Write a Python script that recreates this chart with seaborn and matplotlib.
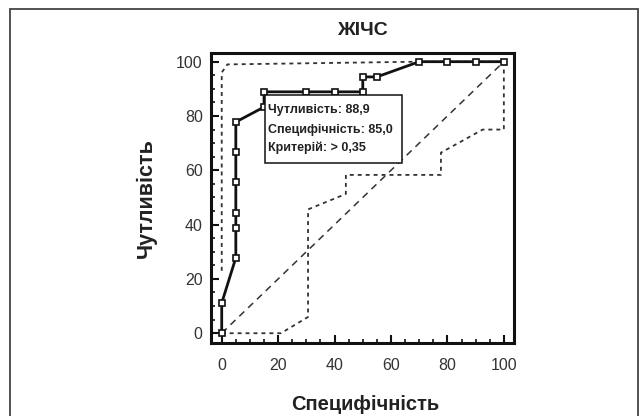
import matplotlib
matplotlib.use("Agg")
import matplotlib.pyplot as plt
import seaborn as sns
import pandas as pd
from matplotlib.patches import Rectangle
from matplotlib.ticker import MultipleLocator

# ROC curve (points shown as squares)
roc_x = [0, 0, 5, 5, 5, 5, 5, 5, 15, 15, 30, 40, 50, 50, 55, 70, 80, 90, 100]
roc_y = [0, 11.1, 27.8, 38.9, 44.4, 55.6, 66.7, 77.8, 83.3, 88.9, 88.9, 88.9, 88.9,
         94.4, 94.4, 100, 100, 100, 100]

# confidence bounds
upper_x = [0, 0, 2, 70, 100]
upper_y = [23, 96, 99, 100, 100]
lower_x = [0, 21, 30.6, 30.6, 44, 44, 77.7, 77.7, 92.5, 100, 100]
lower_y = [0, 0, 6, 45.6, 51.3, 58.3, 58.3, 66.5, 75, 75, 100]

diag = [0, 100]

info_lines = ["Чутливість: 88,9", "Специфічність: 85,0", "Критерій: > 0,35"]

sns.set_style("ticks")
plt.rcParams['font.family'] = ['Liberation Sans', 'DejaVu Sans']

fig = plt.figure(figsize=(6.42, 4.16), dpi=100)
ax = fig.add_axes([211/642, 1 - 343/416, 303/642, 290/416])

# outer frame around the whole figure
fig.patches.append(Rectangle((10.5/642, -0.05), 627.5/642, 1.05 - 9/416,
                             transform=fig.transFigure, fill=False,
                             edgecolor='#444444', linewidth=1.3))

roc = pd.DataFrame({'x': roc_x, 'y': roc_y})
up = pd.DataFrame({'x': upper_x, 'y': upper_y})
lo = pd.DataFrame({'x': lower_x, 'y': lower_y})

sns.lineplot(x=diag, y=diag, ax=ax, color='#333333', lw=1.1,
             dashes=(4.5, 3.5), zorder=1)
for band in (up, lo):
    sns.lineplot(data=band, x='x', y='y', ax=ax, sort=False, estimator=None,
                 color='#333333', lw=1.3, dashes=(2.2, 2.2), zorder=1)
sns.lineplot(data=roc, x='x', y='y', ax=ax, sort=False, estimator=None,
             color='#111111', lw=2.0, marker='s', markersize=5,
             markerfacecolor='white', markeredgecolor='#111111',
             markeredgewidth=1.2, zorder=3)

# info box
ax.add_patch(Rectangle((15.5, 62.7), 48.3, 25.1, facecolor='white',
                       edgecolor='#111111', linewidth=1.1, zorder=5))
for txt, yy in zip(info_lines, [82.1, 75.0, 68.4]):
    ax.text(16.4, yy, txt, ha='left', va='center', fontsize=9,
            fontweight='bold', color='#222222', zorder=6)

ax.set_xlim(-3.8, 103.6)
ax.set_ylim(-3.6, 103.2)
ax.xaxis.set_major_locator(MultipleLocator(20))
ax.yaxis.set_major_locator(MultipleLocator(20))
ax.xaxis.set_minor_locator(MultipleLocator(5))
ax.yaxis.set_minor_locator(MultipleLocator(5))
ax.tick_params(which='major', direction='in', length=6, width=1.5,
               labelsize=11.5, labelcolor='#333333', color='#111111')
ax.tick_params(which='minor', direction='in', length=3, width=1.2, color='#111111')
ax.tick_params(axis='x', which='major', pad=11)
ax.tick_params(axis='y', which='major', pad=6)
for s in ax.spines.values():
    s.set_linewidth(2.2)
    s.set_color('#111111')

ax.set_title("ЖІЧС", fontsize=14, fontweight='bold', color='#222222', pad=13)
ax.set_xlabel("Специфічність", fontsize=14.5, fontweight='bold', color='#222222')
ax.set_ylabel("Чутливість", fontsize=15.5, fontweight='bold', color='#222222')
ax.xaxis.set_label_coords(0.508, -0.178)
ax.yaxis.set_label_coords(-0.18, 0.5)

fig.savefig("out.png", dpi=100)
